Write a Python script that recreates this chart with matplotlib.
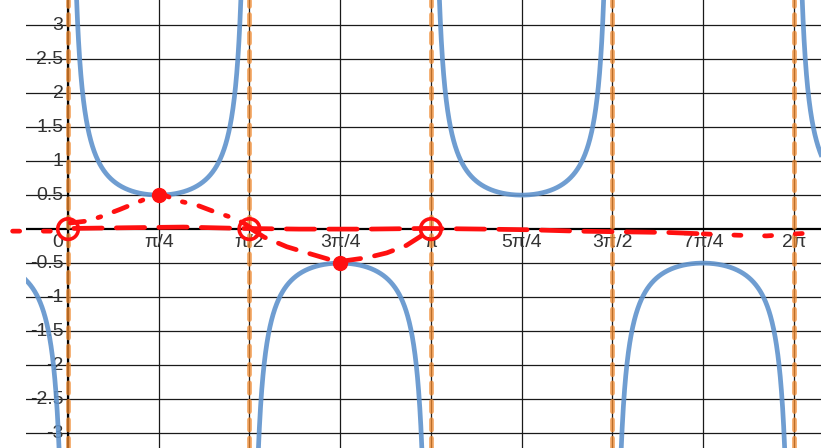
import numpy as np
import matplotlib.pyplot as plt

# blue curve: y = amp / sin(freq * x)
amp = 0.5
freq = 2.0
asymptotes = [0, np.pi / 2, np.pi, 3 * np.pi / 2, 2 * np.pi]

x_ticks = [np.pi / 4 * k for k in range(1, 9)]
x_labels = ["π/4", "π/2", "3π/4", "π", "5π/4", "3π/2", "7π/4", "2π"]
y_ticks = [-3, -2.5, -2, -1.5, -1, -0.5, 0.5, 1, 1.5, 2, 2.5, 3]

# hand-drawn red marks
arc1_x = [0.02, 0.17, 0.28, 0.45, 0.68, 0.785, 0.97, 1.12, 1.26, 1.40, 1.52, 1.60]
arc1_y = [0.09, 0.12, 0.18, 0.29, 0.45, 0.53, 0.41, 0.35, 0.26, 0.18, 0.09, 0.0]
arc2_x = [1.57, 1.70, 1.895, 2.09, 2.25, 2.38, 2.59, 2.76, 2.93, 3.05, 3.13]
arc2_y = [0.02, -0.12, -0.26, -0.36, -0.44, -0.47, -0.42, -0.35, -0.24, -0.11, 0.0]
line_x = [0.05, 0.5, 1.0, 1.5, 2.0, 2.6, 3.1, 3.6, 4.0, 4.4, 4.8, 5.2, 5.5]
line_y = [0.01, 0.02, 0.03, 0.01, 0.0, 0.0, 0.01, 0.0, -0.01, -0.03, -0.04, -0.05, -0.07]
tail_x = [5.5, 5.8, 6.05, 6.3, 6.52]
tail_y = [-0.07, -0.09, -0.10, -0.07, -0.05]
lead_x = [-0.48, -0.30, -0.15, 0.02]
lead_y = [-0.03, -0.03, -0.03, 0.0]
open_pts_x = [0.0, np.pi / 2, np.pi]
open_pts_y = [0.0, 0.0, 0.0]
dot_pts_x = [np.pi / 4, 3 * np.pi / 4]
dot_pts_y = [0.5, -0.5]

plt.rcParams['font.family'] = ['Liberation Sans', 'DejaVu Sans']

fig = plt.figure(figsize=(8.21, 4.48), dpi=100)
ax = fig.add_axes([26 / 821, 0, 795 / 821, 1])
ax.set_xlim(-0.364, 6.52)
ax.set_ylim(-3.22, 3.37)

# grid
for xv in [0] + x_ticks:
    ax.axvline(xv, color='#1a1a1a', lw=0.9, zorder=1)
for yv in y_ticks:
    ax.axhline(yv, color='#1a1a1a', lw=0.9, zorder=1)
ax.axhline(0, color='black', lw=1.6, zorder=2)
ax.axvline(0, color='black', lw=1.6, zorder=2)

# labels
lab_col = '#333333'
for xv, lab in zip(x_ticks, x_labels):
    ax.text(xv, -0.2, lab, ha='center', va='center', fontsize=14, color=lab_col, zorder=3)
ax.text(-0.04, -0.2, "0", ha='right', va='center', fontsize=14, color=lab_col, zorder=3)
for yv in y_ticks:
    ax.text(-0.04, yv, f"{yv:g}", ha='right', va='center', fontsize=14, color=lab_col, zorder=3)

# blue function
xs = np.linspace(-0.364, 6.52, 4000)
ys = amp / np.sin(freq * xs)
ys[np.abs(ys) > 5] = np.nan
ax.plot(xs, ys, color='#5f93cc', lw=3.4, alpha=0.9, zorder=4)

# asymptotes
for xa in asymptotes:
    ax.axvline(xa, color='#f08a30', lw=3.4, ls=(0, (2.2, 1.7)), dash_capstyle='round',
               alpha=0.75, zorder=5)

# red sketch
red = '#ff1010'
kw = dict(color=red, lw=3.4, dash_capstyle='round', zorder=6, clip_on=False)
ax.plot(arc1_x, arc1_y, ls=(0, (3, 3, 0.6, 3)), **kw)
ax.plot(arc2_x, arc2_y, ls=(0, (4, 3)), **kw)
ax.plot(line_x, line_y, ls=(0, (6, 3)), **kw)
ax.plot(tail_x, tail_y, ls=(0, (1.5, 5)), **kw)
ax.plot(lead_x, lead_y, ls=(0, (1.5, 5)), **kw)
ax.scatter(open_pts_x, open_pts_y, s=220, facecolors='none', edgecolors=red, linewidths=2.6, zorder=7)
ax.scatter(dot_pts_x, dot_pts_y, s=100, color=red, zorder=7)

for s in ax.spines.values():
    s.set_visible(False)
ax.set_xticks([])
ax.set_yticks([])

fig.savefig('out.png', dpi=100)
